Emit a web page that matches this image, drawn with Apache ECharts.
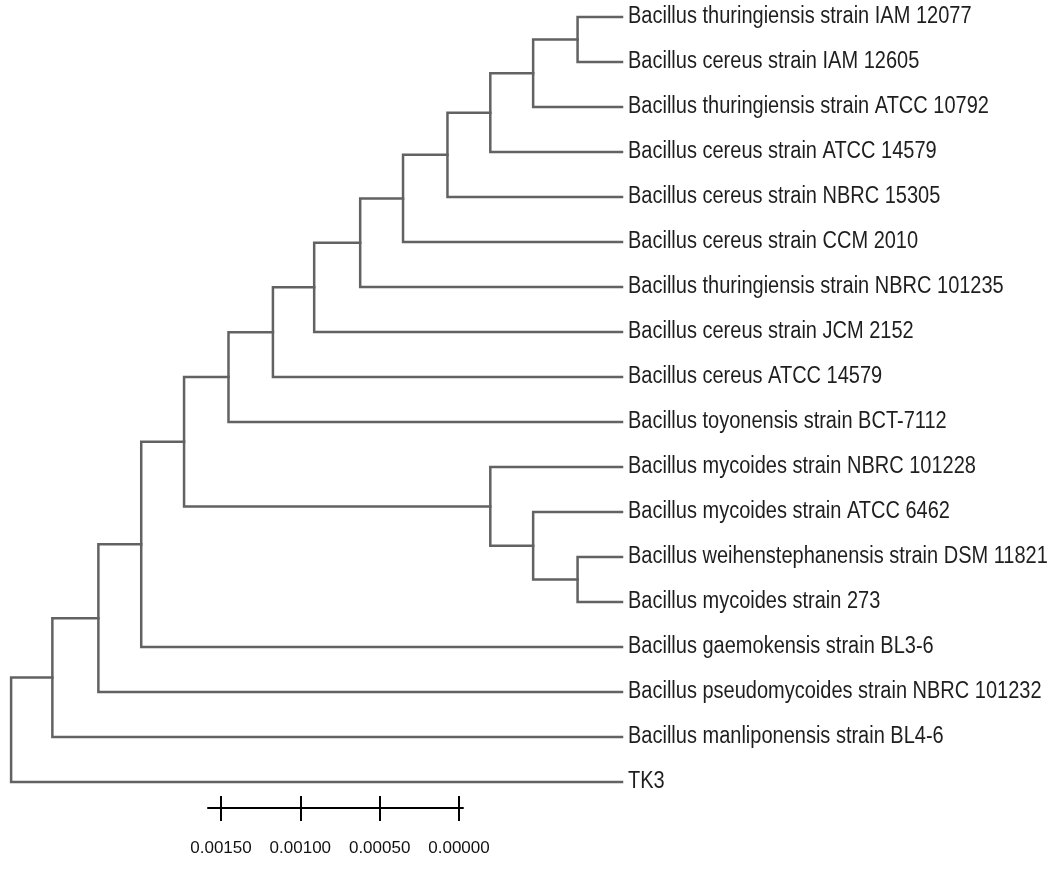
<!DOCTYPE html>
<html>
<head>
<meta charset="utf-8">
<title>Bacillus phylogenetic tree</title>
<script src="https://cdn.jsdelivr.net/npm/echarts@6/dist/echarts.min.js"></script>
<style>
  html, body { margin: 0; padding: 0; background: #ffffff; }
  #chart { width: 1059px; height: 870px; }
</style>
</head>
<body>
<div id="chart"></div>
<script>
// Taxa, listed top to bottom (leaf index = row)
const leafNames = [
  'Bacillus thuringiensis strain IAM 12077',
  'Bacillus cereus strain IAM 12605',
  'Bacillus thuringiensis strain ATCC 10792',
  'Bacillus cereus strain ATCC 14579',
  'Bacillus cereus strain NBRC 15305',
  'Bacillus cereus strain CCM 2010',
  'Bacillus thuringiensis strain NBRC 101235',
  'Bacillus cereus strain JCM 2152',
  'Bacillus cereus ATCC 14579',
  'Bacillus toyonensis strain BCT-7112',
  'Bacillus mycoides strain NBRC 101228',
  'Bacillus mycoides strain ATCC 6462',
  'Bacillus weihenstephanensis strain DSM 11821',
  'Bacillus mycoides strain 273',
  'Bacillus gaemokensis strain BL3-6',
  'Bacillus pseudomycoides strain NBRC 101232',
  'Bacillus manliponensis strain BL4-6',
  'TK3'
];

// Internal nodes: ids 18.. in order; children refer to leaf rows (0-17) or node ids
const nodeChildA = [0, 18, 19, 20, 21, 22, 23, 24, 25, 12, 11, 10, 26, 30, 31, 32, 33];
const nodeChildB = [1, 2, 3, 4, 5, 6, 7, 8, 9, 13, 27, 28, 29, 14, 15, 16, 17];
// Node heights (distance to the tips)
const nodeHeights = [0.00028, 0.00056, 0.00083, 0.00110, 0.00138, 0.00165, 0.00194,
  0.00220, 0.00248, 0.00028, 0.00056, 0.00083, 0.00276, 0.00303, 0.00330, 0.00359, 0.00385];

// Scale bar ticks
const scaleTicks = [0.0015, 0.0010, 0.0005, 0.0];

const leafCount = leafNames.length;

// Row position and height of every leaf / node
const rowOf = [];
const heightOf = [];
for (let i = 0; i < leafCount; i++) { rowOf[i] = i; heightOf[i] = 0; }
for (let k = 0; k < nodeHeights.length; k++) {
  const id = leafCount + k;
  const a = nodeChildA[k], b = nodeChildB[k];
  rowOf[id] = (rowOf[a] + rowOf[b]) / 2;
  heightOf[id] = nodeHeights[k];
}

// One elbow per internal node: [height, rowA, rowB, heightA, heightB]
const branchData = nodeHeights.map(function (h, k) {
  const a = nodeChildA[k], b = nodeChildB[k];
  return [h, rowOf[a], rowOf[b], heightOf[a], heightOf[b]];
});
const tipData = leafNames.map(function (name, i) { return [0, i, name]; });

const chart = echarts.init(document.getElementById('chart'), null, { renderer: 'canvas' });

const option = {
  backgroundColor: '#ffffff',
  animation: false,
  grid: [
    { left: 0, right: 437, top: 17, bottom: 88 },
    { left: 208, width: 255, top: 790, height: 18 }
  ],
  xAxis: [
    { gridIndex: 0, type: 'value', inverse: true, min: 0, max: 0.00392, show: false },
    {
      gridIndex: 1, type: 'value', inverse: true, position: 'bottom',
      min: -0.0000252, max: 0.0015819,
      axisLine: { show: true, onZero: false, lineStyle: { color: '#000', width: 2 } },
      axisTick: { show: true, inside: true, length: 12, customValues: scaleTicks,
                  lineStyle: { color: '#000', width: 2 } },
      axisLabel: { show: false },
      splitLine: { show: false }
    },
    {
      gridIndex: 1, type: 'value', inverse: true, position: 'bottom',
      min: -0.0000252, max: 0.0015819,
      axisLine: { show: false, onZero: false },
      axisTick: { show: true, inside: false, length: 13, customValues: scaleTicks,
                  lineStyle: { color: '#000', width: 2 } },
      axisLabel: {
        show: true, customValues: scaleTicks, margin: 32,
        fontFamily: 'Liberation Sans, Arial, sans-serif', fontSize: 17, color: '#111',
        formatter: function (v) { return Number(v).toFixed(5); }
      },
      splitLine: { show: false }
    }
  ],
  yAxis: [
    { gridIndex: 0, type: 'value', inverse: true, min: 0, max: leafCount - 1, show: false },
    { gridIndex: 1, type: 'value', min: 0, max: 1, show: false }
  ],
  series: [
    {
      type: 'custom',
      name: 'branches',
      xAxisIndex: 0, yAxisIndex: 0,
      data: branchData,
      clip: false,
      renderItem: function (params, api) {
        const h = api.value(0);
        const pA = api.coord([api.value(3), api.value(1)]);
        const pB = api.coord([api.value(4), api.value(2)]);
        const nA = api.coord([h, api.value(1)]);
        const nB = api.coord([h, api.value(2)]);
        return {
          type: 'polyline',
          shape: { points: [pA, nA, nB, pB] },
          style: { stroke: '#626262', lineWidth: 2.5, fill: null, lineJoin: 'miter', lineCap: 'square' }
        };
      }
    },
    {
      type: 'custom',
      name: 'tips',
      xAxisIndex: 0, yAxisIndex: 0,
      data: tipData,
      clip: false,
      renderItem: function (params, api) {
        const p = api.coord([0, api.value(1)]);
        return {
          type: 'text',
          x: p[0] + 6,
          y: p[1],
          scaleY: 1.15,
          style: {
            text: tipData[params.dataIndex][2],
            x: 0, y: 0,
            fill: '#1e1e1e',
            font: '20px "Liberation Sans", Arial, sans-serif',
            verticalAlign: 'middle',
            align: 'left'
          }
        };
      }
    }
  ]
};

chart.setOption(option);
</script>
</body>
</html>
